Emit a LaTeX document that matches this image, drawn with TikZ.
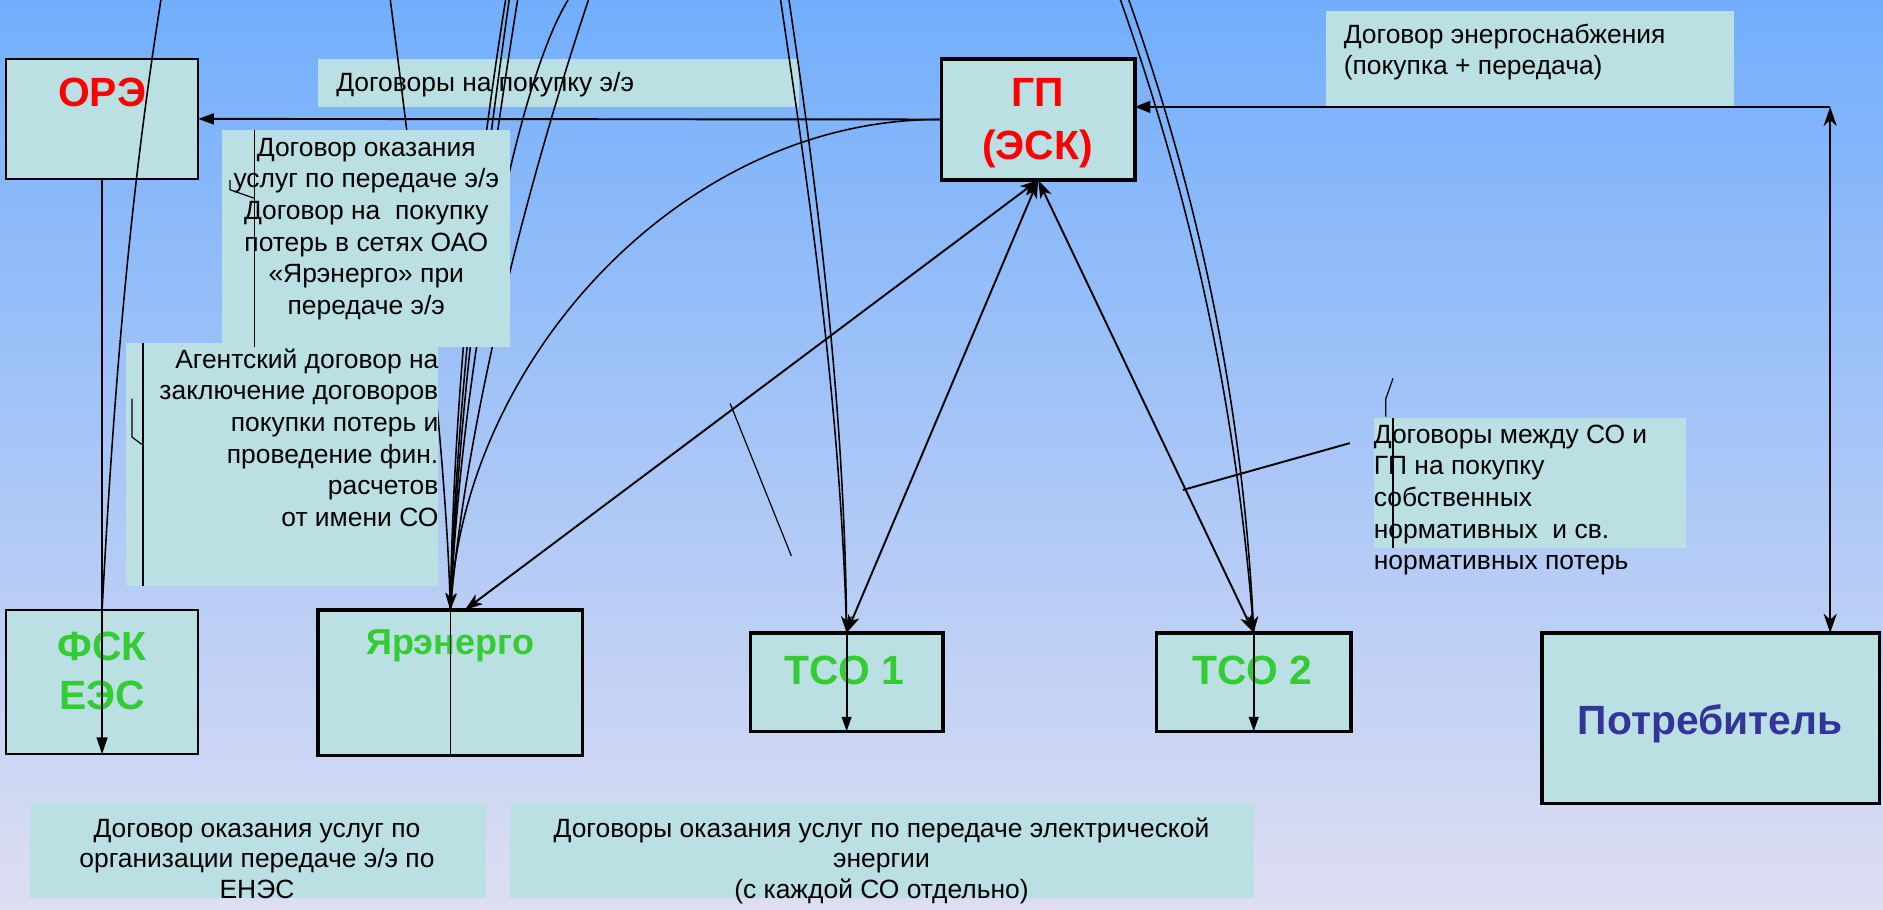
\documentclass[tikz,border=0pt]{standalone}
\usepackage{fontspec}
\setmainfont{Liberation Sans}
\usetikzlibrary{arrows.meta}
\definecolor{boxfill}{RGB}{186,224,227}
\definecolor{redc}{RGB}{255,0,0}
\definecolor{greenc}{RGB}{51,204,51}
\definecolor{bluec}{RGB}{51,51,153}
\definecolor{bgtop}{RGB}{114,174,252}
\definecolor{bgmid}{RGB}{152,198,248}
\definecolor{bgbot}{RGB}{222,222,242}
\begin{document}
\begin{tikzpicture}[x=1pt,y=-1pt,
  every node/.style={inner sep=0pt, outer sep=0pt},
  tbox/.style={rectangle, fill=boxfill, draw=none, anchor=north west},
  nbox/.style={rectangle, fill=boxfill, draw=black, line width=1.5pt, anchor=north west},
  nboxthick/.style={nbox, line width=3pt},
  txt/.style={font=\fontsize{22}{26.4}\selectfont},
  txtb/.style={font=\fontsize{22}{25.7}\selectfont},
  lbl/.style={font=\fontsize{34}{40}\selectfont\bfseries, anchor=base},
  conn/.style={line width=1.6pt},
  curve/.style={line width=1.3pt},
  stray/.style={line width=1pt}]
\useasboundingbox (0,0) rectangle (1568,757);
\shade[top color=bgtop, middle color=bgmid, bottom color=bgbot] (0,0) rectangle (1568,757);

% text boxes lying under the connectors
\node[tbox, minimum width=400pt, minimum height=40pt] (tb1) at (265,49) {};
\node[tbox, minimum width=340pt, minimum height=80pt] (tb2) at (1104,9) {};
\node[tbox, minimum width=260pt, minimum height=108pt] (tb5) at (1144,348) {};
\node[tbox, minimum width=380pt, minimum height=79pt] (tb6) at (25,669) {};
\node[tbox, minimum width=619pt, minimum height=79pt] (tb7) at (425,669) {};

\node[txt, anchor=base west] (t1) at (280,76) {Договоры на покупку э/э};
\node[txt, align=left, anchor=north west] (t2) at (1119,17.5) {\strut Договор энергоснабжения\\(покупка + передача)};
\node[txt, align=left, anchor=north west] (t5) at (1144,350.5) {\strut Договоры между СО и\\ГП на покупку\\собственных\\нормативных~ и св.\\нормативных потерь};
\node[txtb, align=center, anchor=north] (t6) at (214,679) {\strut Договор оказания услуг по\\организации передаче э/э по\\ЕНЭС};
\node[txtb, align=center, anchor=north] (t7) at (734,679) {\strut Договоры оказания услуг по передаче электрической\\энергии\\(с каждой СО отдельно)};

% main nodes
\node[nbox, minimum width=160pt, minimum height=100pt] (ore) at (5,49) {};
\node[nboxthick, minimum width=161pt, minimum height=101pt] (gp) at (784,49) {};
\node[nbox, minimum width=160pt, minimum height=120pt] (fsk) at (5,508) {};
\node[nboxthick, minimum width=220pt, minimum height=121pt] (yar) at (265,508) {};
\node[nboxthick, minimum width=160pt, minimum height=82pt] (tso1) at (625,527) {};
\node[nboxthick, minimum width=162pt, minimum height=82pt] (tso2) at (963,527) {};
\node[nboxthick, minimum width=281pt, minimum height=142pt] (potr) at (1284,527) {};

\node[lbl, text=redc] (oret) at (85,89) {ОРЭ};
\node[lbl, text=redc] (gpt1) at (864,89) {ГП};
\node[lbl, text=redc] (gpt2) at (864,133) {(ЭСК)};
\node[lbl, text=greenc] (fskt1) at (85,550) {ФСК};
\node[lbl, text=greenc] (fskt2) at (85,591) {ЕЭС};
\node[lbl, text=greenc, font=\fontsize{30}{36}\selectfont\bfseries] (yart) at (375,545) {Ярэнерго};
\node[lbl, text=greenc] (tso1t) at (703,570) {ТСО 1};
\node[lbl, text=greenc] (tso2t) at (1043,570) {ТСО 2};
\node[lbl, text=bluec] (potrt) at (1424,612) {Потребитель};

% free ends of the curves (above the top edge)
\coordinate (c0) at (134,0);
\coordinate (y1) at (325,0);
\coordinate (y2) at (421,0);
\coordinate (y3) at (424,0);
\coordinate (y4) at (431,0);
\coordinate (y5) at (473,0);
\coordinate (y6) at (490,0);
\coordinate (p1) at (650,0);
\coordinate (p2) at (657,0);
\coordinate (q1) at (933,0);
\coordinate (q2) at (940,0);
\coordinate (cnr) at (1524,89);

% connectors
\draw[conn, -{Triangle[length=13pt,width=9pt]}] (gp.west) -- (ore.east);
\draw[conn, {Stealth[length=16pt,width=11pt,inset=5pt]}-{Stealth[length=16pt,width=11pt,inset=5pt]}] (cnr) -- (cnr |- potr.north);
\draw[conn, -{Triangle[length=13pt,width=10pt]}] (cnr) -- (cnr -| gp.east);
\draw[conn, -{Triangle[length=14pt,width=9pt]}] (ore.south) -- (fsk.south);
\draw[curve] (c0) .. controls (107,170) and (94,338) .. (fsk.north);

\draw[curve] (y1) .. controls (347,170) and (372,380) .. (yar.north);
\draw[curve, -{Stealth[length=14pt,width=9pt,inset=4pt]}] (y2) .. controls (394,170) and (378,338) .. (yar.north);
\draw[curve] (y3) .. controls (400,170) and (380,338) .. (yar.north);
\draw[curve] (y4) .. controls (404,170) and (382,338) .. (yar.north);
\draw[curve] (y5) .. controls (430,70) and (385,300) .. (yar.north);
\draw[curve] (y6) .. controls (450,120) and (390,330) .. (yar.north);
\draw[curve, -{Stealth[length=14pt,width=9pt,inset=4pt]}] (gp.west) .. controls (571,98) and (390,295) .. (yar.north);
\draw[curve] (yar.north) -- (yar.south);

\draw[conn, {Stealth[length=15pt,width=10pt,inset=4pt]}-{Stealth[length=15pt,width=10pt,inset=4pt]}] (gp.south) -- ([xshift=12pt]yar.north);
\draw[conn, {Stealth[length=15pt,width=10pt,inset=4pt]}-{Stealth[length=15pt,width=10pt,inset=4pt]}] (gp.south) -- (tso1.north);
\draw[conn, {Stealth[length=15pt,width=10pt,inset=4pt]}-{Stealth[length=15pt,width=10pt,inset=4pt]}] (gp.south) -- (tso2.north);

\draw[curve] (p1) .. controls (676,175) and (700,345) .. (tso1.north);
\draw[curve, -{Stealth[length=14pt,width=9pt,inset=4pt]}] (p2) .. controls (683,175) and (703,345) .. (tso1.north);
\draw[conn, -{Triangle[length=12pt,width=8pt]}] (tso1.north) -- (tso1.south);

\draw[curve] (q1) .. controls (995,175) and (1030,345) .. (tso2.north);
\draw[curve, -{Stealth[length=14pt,width=9pt,inset=4pt]}] (q2) .. controls (1002,175) and (1035,345) .. (tso2.north);
\draw[conn, -{Triangle[length=12pt,width=8pt]}] (tso2.north) -- (tso2.south);

% text boxes lying over the connectors
\node[tbox, minimum width=240pt, minimum height=181pt] (tb3) at (185,108) {};
\node[tbox, minimum width=260pt, minimum height=202pt] (tb4) at (105,286) {};
\node[txt, align=center, anchor=north] (t3) at (305,111.5) {\strut Договор оказания\\услуг по передаче э/э\\Договор на~ покупку\\потерь в сетях ОАО\\«Ярэнерго» при\\передаче э/э};
\node[txt, align=right, anchor=north east] (t4) at (365,288) {\strut Агентский договор на\\заключение договоров\\покупки потерь и\\проведение фин.\\расчетов\\от имени СО};

% stray strokes
\draw[stray] (608,336) -- (659,463);
\draw[conn] (985,408) -- (1124,369);
\draw[stray] (1160,315) -- (1154,332) -- (1154,347);
\draw[stray] (1160,348) -- (1160,456);
\draw[stray] (110,332) -- (110,364) -- (118,370);
\draw[stray] (119,286) -- (119,488);
\draw[stray] (191.5,150) -- (191.5,158) -- (211.5,165);
\draw[stray] (212,108) -- (212,289);
\end{tikzpicture}
\end{document}
